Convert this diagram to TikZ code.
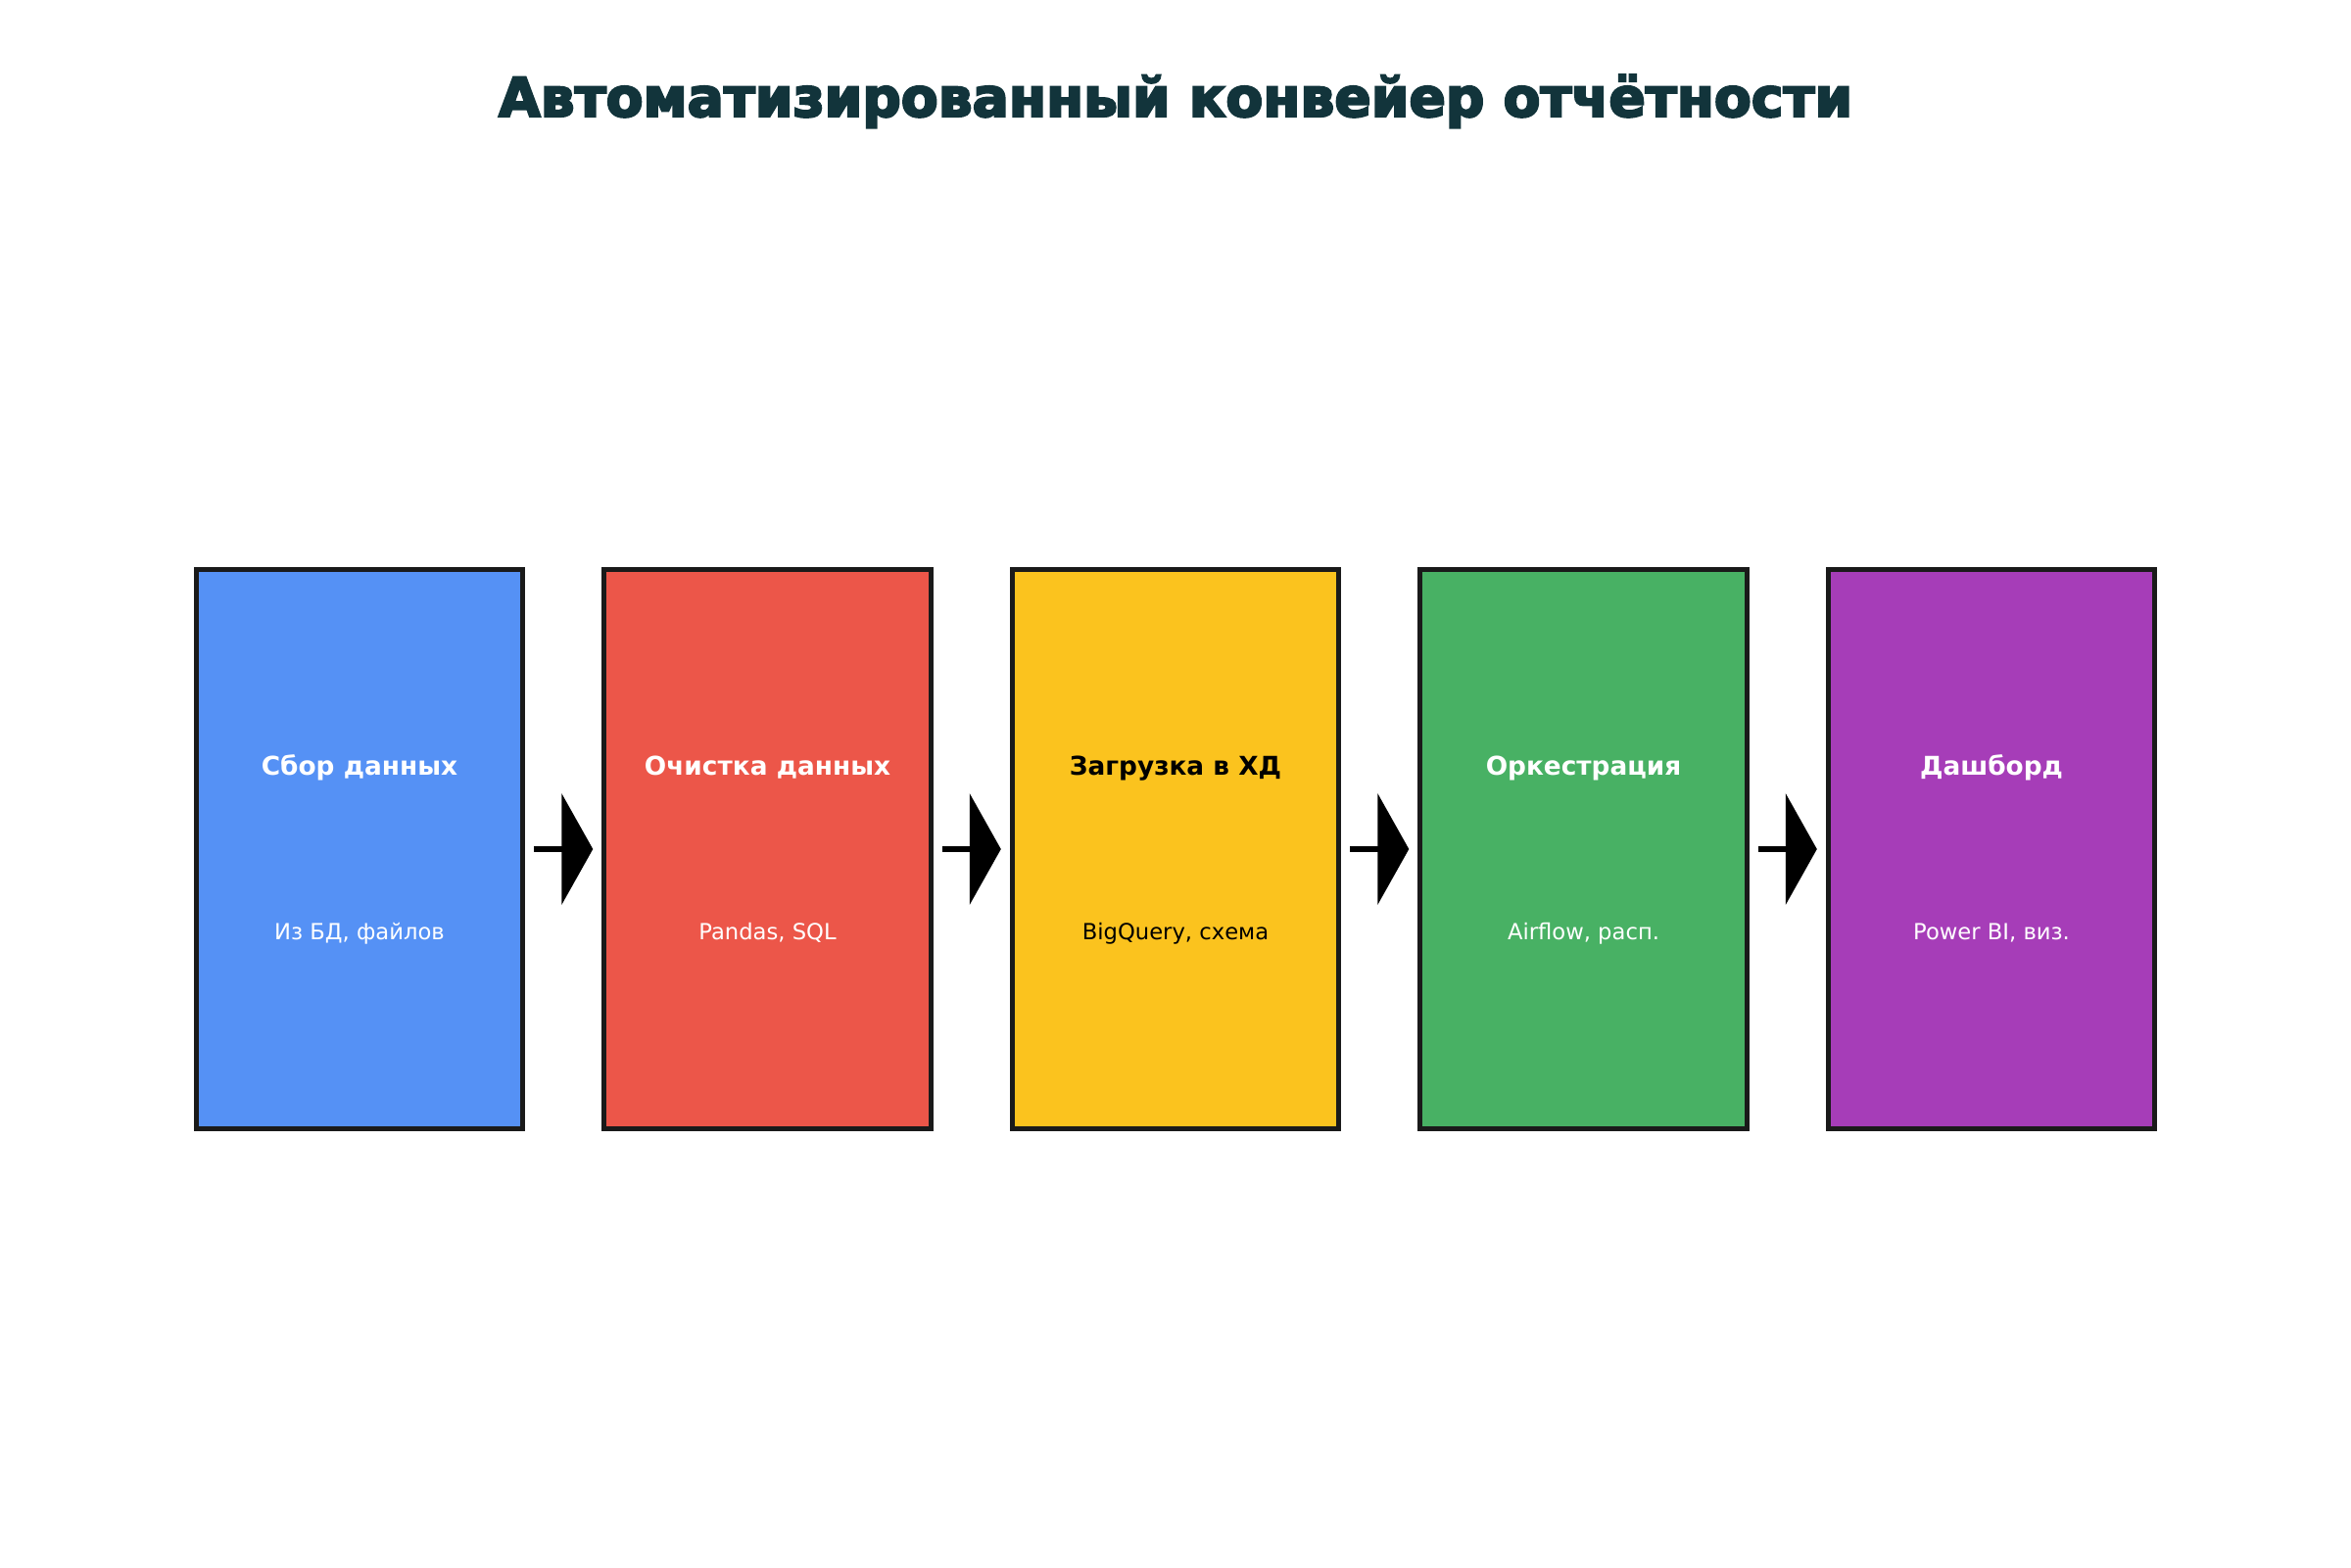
\documentclass[tikz,border=0pt]{standalone}
\usepackage{fontspec}
\setmainfont{DejaVu Sans}
\newfontfamily\titlefont[BoldFeatures={FakeBold=4}]{DejaVu Sans}
\usetikzlibrary{arrows.meta}

\definecolor{titleink}{HTML}{12343B}
\definecolor{edgeink}{HTML}{1A1A1A}
\definecolor{stageblue}{HTML}{5591F5}
\definecolor{stagered}{HTML}{EC5649}
\definecolor{stageyellow}{HTML}{FBC31E}
\definecolor{stagegreen}{HTML}{48B164}
\definecolor{stagepurple}{HTML}{A63DB8}

\begin{document}
\begin{tikzpicture}[auto,
  stage/.style={draw=edgeink, line width=1.4pt, minimum width=3.335cm, minimum height=5.71cm, inner sep=0pt},
  stagename/.style={anchor=base, yshift=0.75cm, font=\bfseries\fontsize{7.5}{9}\selectfont},
  stagenote/.style={anchor=base, yshift=-0.93cm, font=\fontsize{6.45}{8}\selectfont},
  flow/.style={line width=1.7pt, -{Triangle[length=0.32cm,width=1.13cm]}, shorten <=0.09cm, shorten >=0.09cm}]
\useasboundingbox (0,0) rectangle (24,16);
\node [anchor=base, text=titleink, font=\titlefont\bfseries\fontsize{15.7}{18}\selectfont] (title) at (12,14.81) {Автоматизированный конвейер отчётности};
\node [stage, fill=stageblue]   (collect)  at (3.67,7.33)  {};
\node [stage, fill=stagered]    (clean)    at (7.835,7.33) {};
\node [stage, fill=stageyellow] (load)     at (12,7.33)    {};
\node [stage, fill=stagegreen]  (orchestr) at (16.165,7.33) {};
\node [stage, fill=stagepurple] (dash)     at (20.33,7.33) {};
\node [stagename, text=white] (collectname)  at (collect.center)  {Сбор данных};
\node [stagenote, text=white] (collectnote)  at (collect.center)  {Из БД, файлов};
\node [stagename, text=white] (cleanname)    at (clean.center)    {Очистка данных};
\node [stagenote, text=white] (cleannote)    at (clean.center)    {Pandas, SQL};
\node [stagename, text=black] (loadname)     at (load.center)     {Загрузка в ХД};
\node [stagenote, text=black] (loadnote)     at (load.center)     {BigQuery, схема};
\node [stagename, text=white] (orchestrname) at (orchestr.center) {Оркестрация};
\node [stagenote, text=white] (orchestrnote) at (orchestr.center) {Airflow, расп.};
\node [stagename, text=white] (dashname)     at (dash.center)     {Дашборд};
\node [stagenote, text=white] (dashnote)     at (dash.center)     {Power BI, виз.};
\draw [flow] (collect)  to (clean);
\draw [flow] (clean)    to (load);
\draw [flow] (load)     to (orchestr);
\draw [flow] (orchestr) to (dash);
\end{tikzpicture}
\end{document}
